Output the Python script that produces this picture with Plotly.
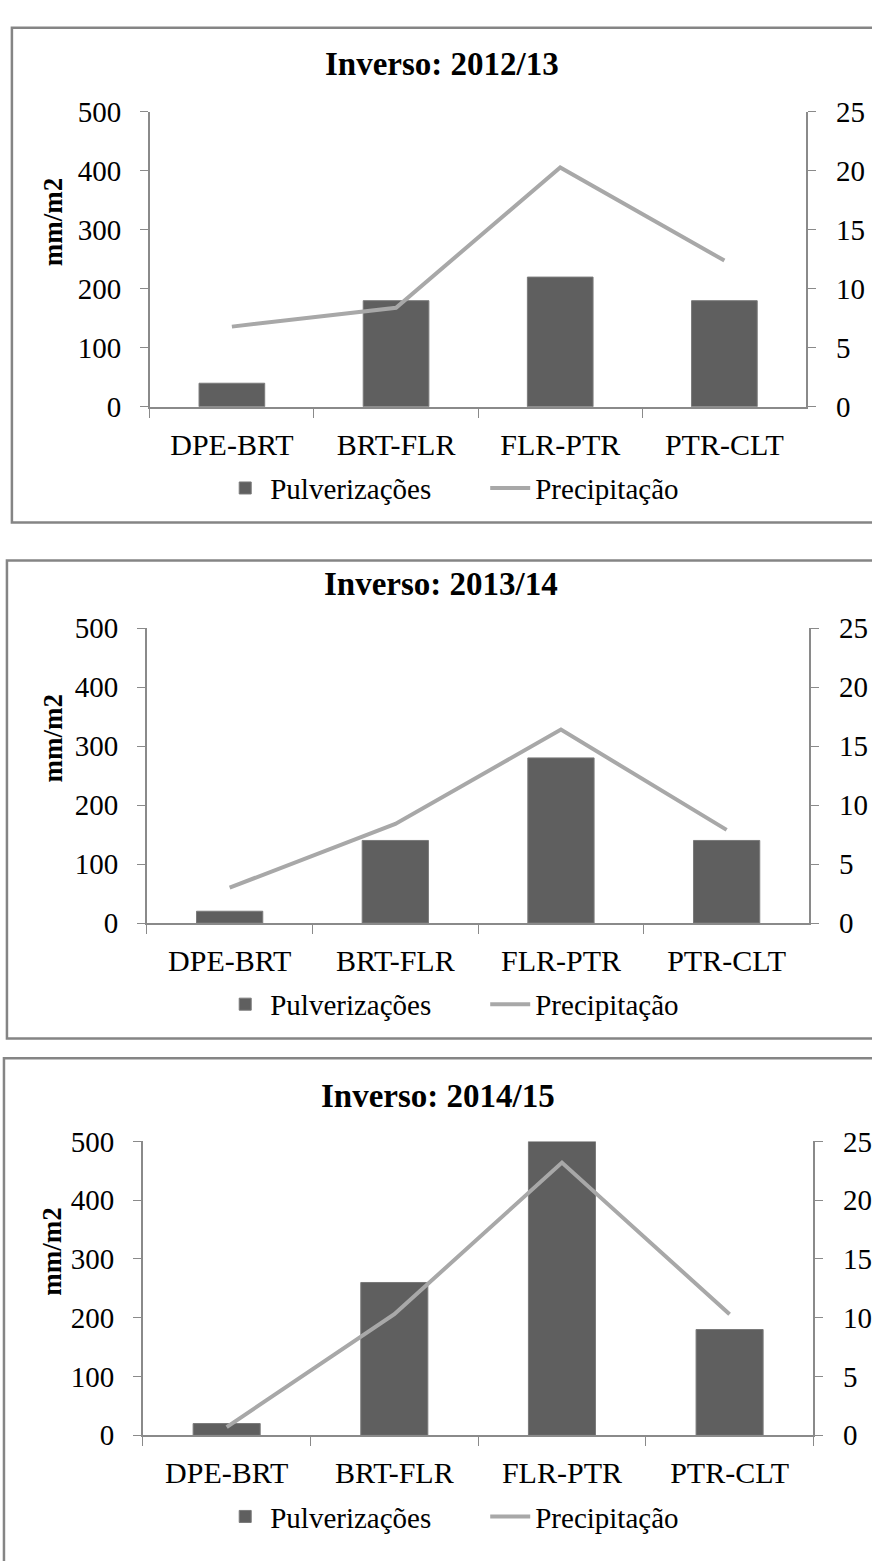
import plotly.graph_objects as go

W, H = 872, 1561

categories = ["DPE-BRT", "BRT-FLR", "FLR-PTR", "PTR-CLT"]
titles = ["Inverso: 2012/13", "Inverso: 2013/14", "Inverso: 2014/15"]
pulverizacoes = [
    [40, 180, 220, 180],
    [20, 140, 280, 140],
    [20, 260, 500, 180],
]
precipitacao = [
    [6.8, 8.4, 20.3, 12.4],
    [3.0, 8.4, 16.4, 7.9],
    [0.7, 10.3, 23.2, 10.3],
]
left_ticks = [0, 100, 200, 300, 400, 500]
right_ticks = [0, 5, 10, 15, 20, 25]

# panel geometry in pixels
panels = [
    dict(px0=151, px1=813, top=98, bot=399, box=(12, 12, 517), title_y=49, title_x=446, ytitle_y=211),
    dict(px0=148, px1=816, top=625, bot=926, box=(7, 556, 1044), title_y=580, title_x=445, ytitle_y=738),
    dict(px0=144, px1=820, top=1149, bot=1449, box=(4, 1064, 1600), title_y=1103, title_x=442, ytitle_y=1262),
]

def px(x):
    return x / W

def py(y):
    return 1 - y / H

FONT = "Liberation Serif, Times New Roman, serif"
BAR = "#5f5f5f"
LINE = "#a8a8a8"
AX = "#8a8a8a"

fig = go.Figure()
layout = dict(
    width=W, height=H, margin=dict(l=0, r=0, t=0, b=0),
    paper_bgcolor="white", plot_bgcolor="white",
    font=dict(family=FONT, size=29, color="black"),
    shapes=[], annotations=[], bargap=0.6,
)

for i, p in enumerate(panels):
    n = i + 1
    xa = "x" if n == 1 else f"x{n}"
    ya = "y" if n == 1 else f"y{2*n-1}"
    ya2 = f"y{2*n}"
    lg = "legend" if n == 1 else f"legend{n}"
    fig.add_trace(go.Bar(
        x=categories, y=pulverizacoes[i], name="Pulverizações",
        marker=dict(color=BAR, line=dict(color="#7a7a7a", width=1)),
        width=0.4, xaxis=xa, yaxis=ya, legend=lg,
    ))
    fig.add_trace(go.Scatter(
        x=categories, y=precipitacao[i], name="Precipitação", mode="lines",
        line=dict(color=LINE, width=4), xaxis=xa, yaxis=ya2, legend=lg,
    ))
    xkey = "xaxis" if n == 1 else f"xaxis{n}"
    ykey = "yaxis" if n == 1 else f"yaxis{2*n-1}"
    y2key = f"yaxis{2*n}"
    dom_y = [py(p["bot"]), py(p["top"])]
    layout[xkey] = dict(
        domain=[px(p["px0"]), px(p["px1"])], anchor=ya, type="category",
        range=[-0.5, 3.5], tickson="boundaries", ticks="outside", ticklen=9,
        tickcolor=AX, showline=True, linecolor=AX, linewidth=1.5, showgrid=False,
        tickfont=dict(family=FONT, size=30), ticklabelstandoff=10,
    )
    layout[ykey] = dict(
        domain=dom_y, anchor=xa, range=[0, 500], tickvals=left_ticks,
        ticks="outside", ticklen=8, tickcolor=AX, showline=True, linecolor=AX,
        linewidth=1.5, showgrid=False, zeroline=False,
        tickfont=dict(family=FONT, size=29), ticklabelstandoff=13,
    )
    layout[y2key] = dict(
        domain=dom_y, anchor=xa, overlaying=ya, side="right", range=[0, 25],
        tickvals=right_ticks, ticks="outside", ticklen=8, tickcolor=AX,
        showline=True, linecolor=AX, linewidth=1.5, showgrid=False, zeroline=False,
        tickfont=dict(family=FONT, size=29), ticklabelstandoff=14,
    )
    layout[lg] = dict(
        orientation="h", x=px(222), xanchor="left", y=py(p["bot"] + 83), yanchor="middle",
        font=dict(family=FONT, size=29), bgcolor="rgba(0,0,0,0)", itemwidth=40,
        entrywidth=210, entrywidthmode="pixels", tracegroupgap=0,
    )
    bx, bt, bb = p["box"]
    layout["shapes"].append(dict(
        type="rect", xref="paper", yref="paper", x0=px(bx), x1=px(bx + 900),
        y0=py(bb), y1=py(bt), line=dict(color="#858585", width=2.5), fillcolor="rgba(0,0,0,0)",
        layer="below",
    ))
    layout["annotations"].append(dict(
        text="<b>" + titles[i] + "</b>", xref="paper", yref="paper",
        x=px(p["title_x"]), y=py(p["title_y"]), xanchor="center", yanchor="middle",
        showarrow=False, font=dict(family=FONT, size=33, color="black"),
    ))
    layout["annotations"].append(dict(
        text="<b>mm/m2</b>", xref="paper", yref="paper", textangle=-90,
        x=px(53), y=py(p["ytitle_y"]), xanchor="center", yanchor="middle",
        showarrow=False, font=dict(family=FONT, size=27, color="black"),
    ))

fig.update_layout(**layout)
fig.write_html("out.html")
